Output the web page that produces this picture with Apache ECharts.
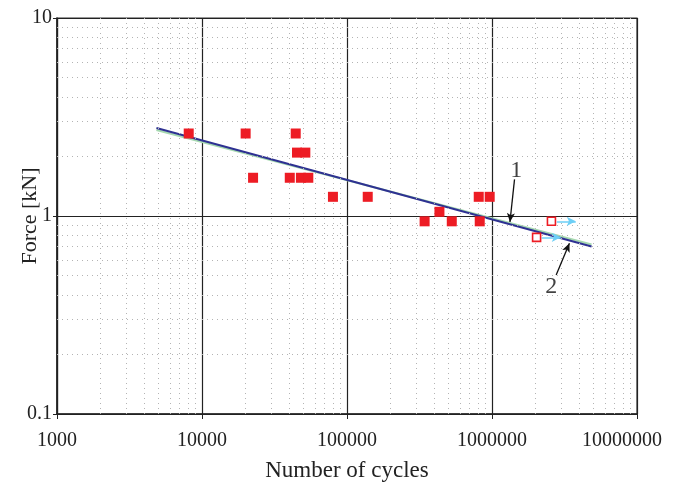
<!DOCTYPE html>
<html>
<head>
<meta charset="utf-8">
<script src="https://cdn.jsdelivr.net/npm/echarts@6/dist/echarts.min.js"></script>
<style>
html,body{margin:0;padding:0;background:#fff;}
#chart{width:675px;height:483px;}
</style>
</head>
<body>
<div id="chart"></div>
<script>
// ---- data ----
const xTickLabels = [1000, 10000, 100000, 1000000, 10000000];
const yTickLabels = [0.1, 1, 10];
const xMinorGrid = [2000,3000,4000,5000,6000,7000,8000,9000,
  20000,30000,40000,50000,60000,70000,80000,90000,
  200000,300000,400000,500000,600000,700000,800000,900000,
  2000000,3000000,4000000,5000000,6000000,7000000,8000000,9000000];
const yMinorGrid = [0.2,0.3,0.4,0.5,0.6,0.7,0.8,0.9,2,3,4,5,6,7,8,9];
// failed specimens (cycles, force kN)
const failedCycles = [8100, 20000, 44300, 45200, 51600, 22500, 40300, 48100, 54100, 80000, 139000, 343000, 434000, 528000, 823000, 810000, 964000];
const failedForce  = [2.61, 2.61, 2.61, 2.09, 2.09, 1.56, 1.56, 1.56, 1.56, 1.25, 1.25, 0.94, 1.05, 0.94, 0.94, 1.25, 1.25];
// run-outs (no failure)
const runoutCycles = [2570000, 2030000];
const runoutForce  = [0.94, 0.78];
const runoutArrowEnd = [3780000, 2980000];
const runoutArrowStart = [2800000, 2200000];
// fitted curves 1 and 2
const curveCycles = [4850, 4860000];
const curve1Force = [2.72, 0.718];
const curve2Force = [2.78, 0.702];
// annotations
const annoText = ['1', '2'];
const annoTextPos = [[1470000, 1.69], [2560000, 0.44]];
const annoArrowFrom = [[1430000, 1.53], [2770000, 0.504]];
const annoArrowTo = [[1330000, 0.932], [3420000, 0.729]];

const fmt = v => String(Number(Number(v).toPrecision(6)));
const font = '"Liberation Serif", "Times New Roman", serif';

const chart = echarts.init(document.getElementById('chart'), null, {renderer: 'canvas'});

const minorStyle = {color: '#b4b4b4', width: 1, type: [1, 4]};

chart.setOption({
  animation: false,
  backgroundColor: '#fff',
  grid: {left: 57, right: 38, top: 18, bottom: 69, show: true, borderColor: '#333', borderWidth: 1.2,
         containLabel: false, outerBoundsMode: 'none'},
  xAxis: {
    type: 'log', logBase: 10, min: xTickLabels[0], max: xTickLabels[xTickLabels.length - 1], splitNumber: 4,
    name: 'Number of cycles', nameLocation: 'middle', nameGap: 45, nameMoveOverlap: false,
    nameTextStyle: {fontFamily: font, fontSize: 23, color: '#222'},
    axisLine: {lineStyle: {color: '#222', width: 1.5}},
    axisTick: {show: true, inside: false, length: 5, lineStyle: {color: '#222'}},
    axisLabel: {
      fontFamily: font, fontSize: 20, color: '#222', margin: 17,
      formatter: v => {
        const s = fmt(v);
        return Number(s) === xTickLabels[xTickLabels.length - 1] ? '{last|' + s + '}' : s;
      },
      rich: {last: {fontFamily: font, fontSize: 20, color: '#222', padding: [0, 30, 0, 0]}}
    },
    splitLine: {show: true, lineStyle: {color: '#222', width: 1.2}}
  },
  yAxis: {
    type: 'log', logBase: 10, min: yTickLabels[0], max: yTickLabels[yTickLabels.length - 1], splitNumber: 2,
    name: 'Force [kN]', nameLocation: 'middle', nameGap: 16, nameRotate: 90, nameMoveOverlap: false,
    nameTextStyle: {fontFamily: font, fontSize: 22, color: '#222'},
    axisLine: {lineStyle: {color: '#222', width: 1.5}},
    axisTick: {show: true, inside: false, length: 4, lineStyle: {color: '#222'}},
    axisLabel: {fontFamily: font, fontSize: 20, color: '#222', margin: 5, formatter: v => fmt(v)},
    splitLine: {show: true, lineStyle: {color: '#222', width: 1.2}}
  },
  series: [
    {
      type: 'line', data: [], silent: true, z: 1,
      markLine: {
        silent: true, symbol: ['none', 'none'], label: {show: false}, animation: false,
        lineStyle: minorStyle,
        data: xMinorGrid.map(v => ({xAxis: v})).concat(yMinorGrid.map(v => ({yAxis: v})))
      }
    },
    {
      name: '1', type: 'line', data: curveCycles.map((x, i) => [x, curve1Force[i]]),
      symbol: 'none', lineStyle: {color: '#a6d9b0', width: 2.2}, z: 3
    },
    {
      name: '2', type: 'line', data: curveCycles.map((x, i) => [x, curve2Force[i]]),
      symbol: 'none', lineStyle: {color: '#2e3192', width: 2}, z: 4
    },
    {
      type: 'line', data: [], silent: true, z: 5,
      markLine: {
        silent: true, symbol: ['none', 'arrow'], symbolSize: [7, 9], label: {show: false}, animation: false,
        lineStyle: {color: '#6dcff6', width: 1.5, type: 'solid'},
        data: runoutCycles.map((x, i) => [{coord: [runoutArrowStart[i], runoutForce[i]]}, {coord: [runoutArrowEnd[i], runoutForce[i]]}])
      }
    },
    {
      type: 'line', data: [], silent: true, z: 6,
      markLine: {
        silent: true, symbol: ['none', 'arrow'], symbolSize: [6, 9], label: {show: false}, animation: false,
        lineStyle: {color: '#111', width: 1.3, type: 'solid'},
        data: annoArrowFrom.map((p, i) => [{coord: p}, {coord: annoArrowTo[i]}])
      }
    },
    {
      type: 'scatter', data: failedCycles.map((x, i) => [x, failedForce[i]]),
      symbol: 'rect', symbolSize: 10, itemStyle: {color: '#ed1c24', opacity: 1}, z: 7
    },
    {
      type: 'scatter', data: runoutCycles.map((x, i) => [x, runoutForce[i]]),
      symbol: 'rect', symbolSize: 8, itemStyle: {color: '#fff', borderColor: '#ed1c24', borderWidth: 1.6, opacity: 1}, z: 7
    },
    {
      type: 'scatter', data: annoTextPos.map((p, i) => [p[0], p[1], annoText[i]]),
      symbol: 'circle', symbolSize: 1, itemStyle: {color: 'rgba(0,0,0,0)'}, z: 8,
      label: {show: true, position: 'inside', formatter: p => p.value[2], fontFamily: font, fontSize: 24, color: '#111'}
    }
  ]
});
</script>
</body>
</html>
